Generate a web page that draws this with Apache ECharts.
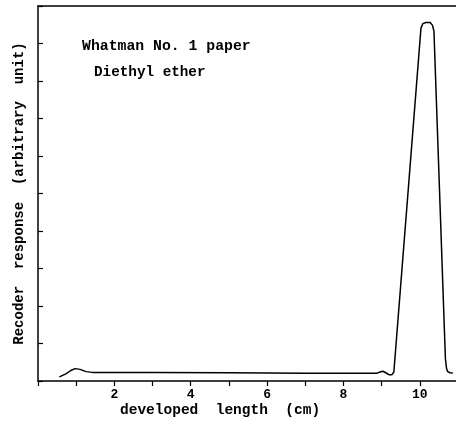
<!DOCTYPE html>
<html>
<head>
<meta charset="utf-8">
<script src="https://cdn.jsdelivr.net/npm/echarts@6/dist/echarts.min.js"></script>
<style>
  html, body { margin: 0; padding: 0; background: #fff; }
  #chart { width: 456px; height: 421px; }
</style>
</head>
<body>
<div id="chart"></div>
<script>
// developed length (cm) vs recorder response
const lengthCm = [0.56, 0.73, 0.86, 0.97, 1.10, 1.26, 1.42, 3.0, 5.0, 7.0, 8.5, 8.88, 8.96, 9.03, 9.11, 9.19, 9.27, 9.32,
  10.03, 10.08, 10.16, 10.27, 10.33, 10.37, 10.67, 10.70, 10.73, 10.79, 10.87];
const response = [0.11, 0.19, 0.28, 0.33, 0.31, 0.25, 0.23, 0.23, 0.22, 0.21, 0.21, 0.21, 0.24, 0.26, 0.22, 0.17, 0.17, 0.24,
  9.41, 9.53, 9.56, 9.56, 9.49, 9.33, 0.6, 0.33, 0.25, 0.22, 0.21];
const xTicks = [2, 4, 6, 8, 10];
const labels = ["Whatman No. 1 paper", "Diethyl ether"];

const FONT = "Liberation Mono";
const chart = echarts.init(document.getElementById("chart"));

const points = lengthCm.map((x, i) => [x, response[i]]);

const option = {
  animation: false,
  grid: { left: 38, right: -2, top: 6, bottom: 40, outerBoundsMode: "none" },
  xAxis: [
    {
      type: "value",
      min: 0,
      max: 11,
      interval: 1,
      axisLine: { lineStyle: { color: "#000", width: 1.5 } },
      axisTick: { inside: false, length: 5, lineStyle: { color: "#000", width: 1.2 } },
      splitLine: { show: false },
      axisLabel: {
        margin: 7,
        color: "#000",
        fontFamily: FONT,
        fontSize: 13,
        fontWeight: "bold",
        formatter: (v) => (xTicks.includes(v) ? String(v) : ""),
      },
    },
    {
      type: "value",
      position: "top",
      min: 0,
      max: 11,
      axisLine: { show: true, lineStyle: { color: "#000", width: 1.5 } },
      axisTick: { show: false },
      axisLabel: { show: false },
      splitLine: { show: false },
    },
  ],
  yAxis: {
    type: "value",
    min: 0,
    max: 10,
    interval: 1,
    name: "Recoder  response  (arbitrary  unit)",
    nameLocation: "middle",
    nameGap: 12,
    nameTextStyle: { color: "#000", fontFamily: FONT, fontSize: 14, fontWeight: "bold" },
    axisLine: { show: true, lineStyle: { color: "#000", width: 1.5 } },
    axisTick: { inside: true, length: 5, lineStyle: { color: "#000", width: 1.2 } },
    axisLabel: { show: false },
    splitLine: { show: false },
  },
  graphic: [
    {
      type: "text",
      left: 82,
      top: 39,
      style: { text: labels[0], fill: "#000", font: "bold 14.8px 'Liberation Mono'" },
    },
    {
      type: "text",
      left: 94,
      top: 65,
      style: { text: labels[1], fill: "#000", font: "bold 14.3px 'Liberation Mono'" },
    },
    {
      type: "text",
      left: 120,
      top: 403,
      style: { text: "developed  length  (cm)", fill: "#000", font: "bold 14.5px 'Liberation Mono'" },
    },
  ],
  series: [
    {
      type: "line",
      data: points,
      showSymbol: false,
      smooth: false,
      lineStyle: { color: "#000", width: 1.5 },
    },
  ],
};

chart.setOption(option);
</script>
</body>
</html>
